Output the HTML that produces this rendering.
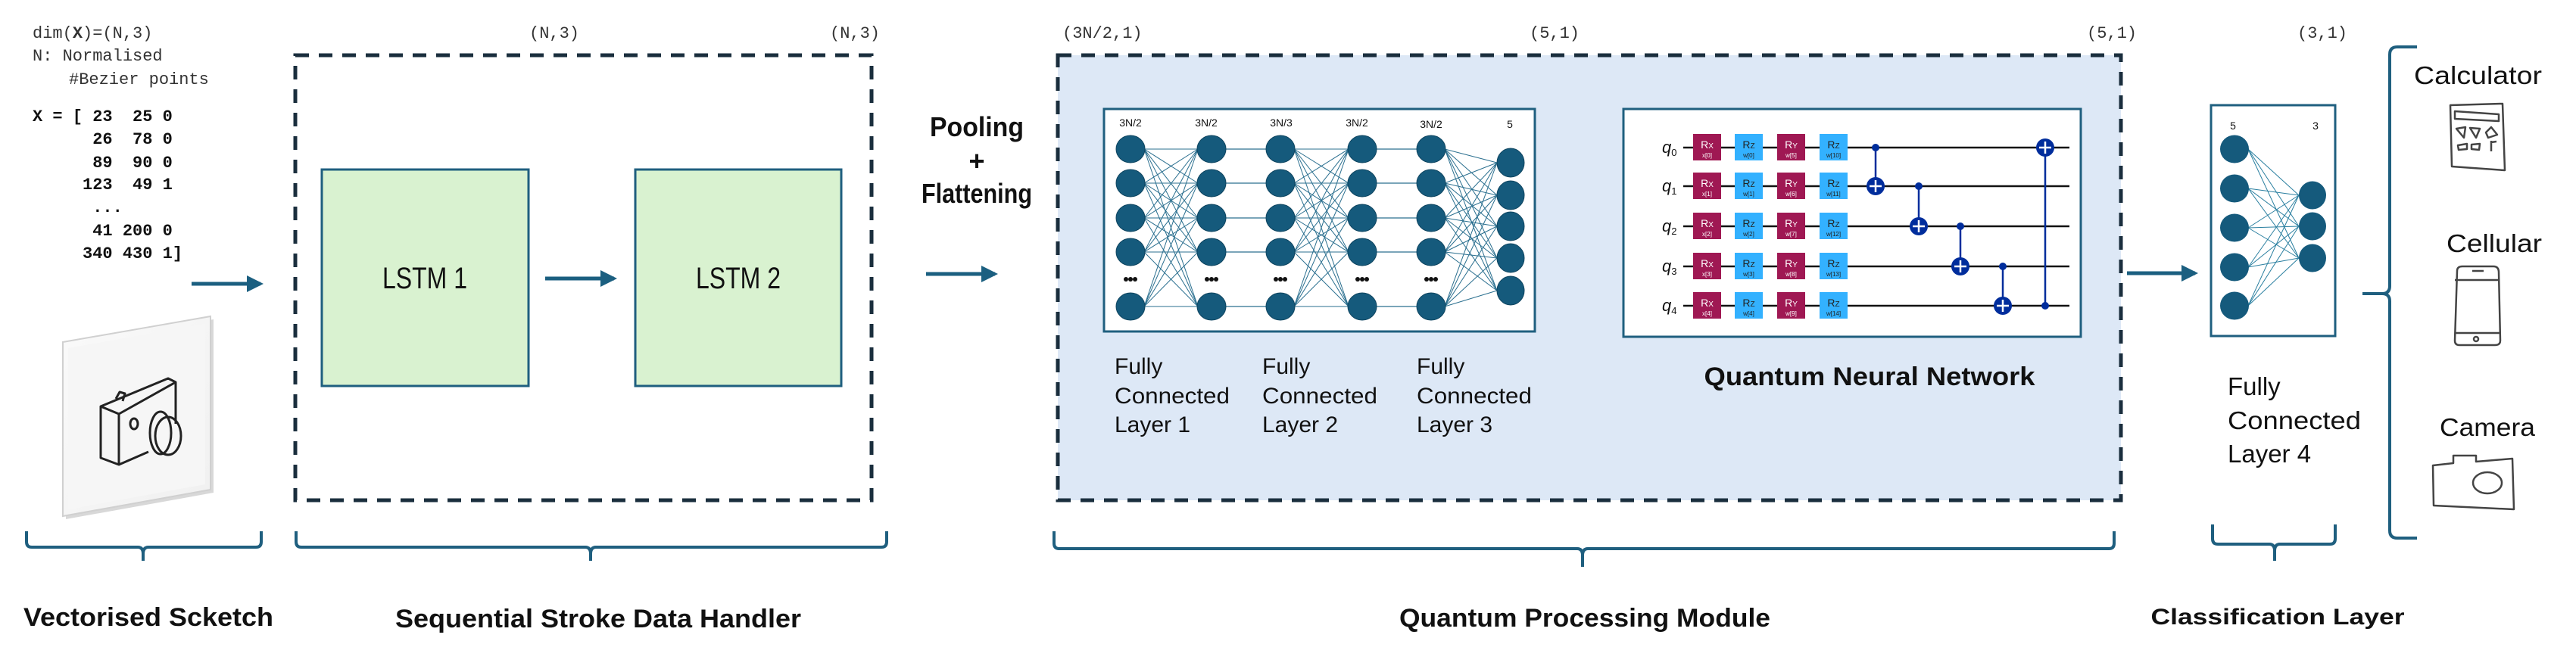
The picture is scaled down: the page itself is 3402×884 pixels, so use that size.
<!DOCTYPE html>
<html><head><meta charset="utf-8"><style>
html,body{margin:0;padding:0;background:#fff;}
svg{display:block;}
text{font-family:"Liberation Sans",sans-serif;}
.m,.m text{font-family:"Liberation Mono",monospace;}
</style></head><body>
<svg id="s" width="3402" height="884" viewBox="0 0 3402 884" xmlns="http://www.w3.org/2000/svg">
<defs>
<marker id="ah" markerWidth="22" markerHeight="22" refX="18" refY="11" orient="auto" markerUnits="userSpaceOnUse" viewBox="0 0 22 22"><path d="M0,0 L22,11 L0,22 z" fill="#1b5f80"/></marker>
<linearGradient id="card" x1="0" y1="0" x2="1" y2="1"><stop offset="0" stop-color="#fafafa"/><stop offset="1" stop-color="#f0f0f0"/></linearGradient>
</defs>

<text class="m" x="43" y="50" font-size="22" fill="#333">dim(<tspan font-weight="bold">X</tspan>)=(N,3)</text>
<text class="m" x="43" y="80" font-size="22" fill="#333">N: Normalised</text>
<text class="m" x="91" y="111" font-size="22" fill="#333">#Bezier points</text>
<g class="m" font-size="22" font-weight="bold" fill="#111">
<text x="43" y="160" xml:space="preserve">X = [ 23  25 0</text>
<text x="43" y="190" xml:space="preserve">      26  78 0</text>
<text x="43" y="221" xml:space="preserve">      89  90 0</text>
<text x="43" y="250" xml:space="preserve">     123  49 1</text>
<text x="43" y="280" xml:space="preserve">      ...</text>
<text x="43" y="311" xml:space="preserve">      41 200 0</text>
<text x="43" y="341" xml:space="preserve">     340 430 1]</text>
</g>

<g class="m" font-size="22" fill="#333">
<text x="699" y="50">(N,3)</text>
<text x="1096" y="50">(N,3)</text>
<text x="1403" y="50">(3N/2,1)</text>
<text x="2020" y="50">(5,1)</text>
<text x="2756" y="50">(5,1)</text>
<text x="3034" y="50">(3,1)</text>
</g>

<polygon points="83,452 278,418 278,647 83,682" fill="#d8d8d8" transform="translate(4,4)"/>
<polygon points="83,452 278,418 278,647 83,682" fill="url(#card)" stroke="#d0d0d0" stroke-width="2"/>
<polygon points="90,460 271,428 271,640 90,673" fill="#f6f6f6"/>
<g fill="none" stroke="#222" stroke-width="3" stroke-linejoin="round">
<path d="M133,537 L133,605 L157,614 L157,547 L133,537 L222,500 L232,505 L232,560"/>
<path d="M157,547 L232,505"/>
<path d="M157,614 L196,597"/>
<path d="M153,527 L158,518 L165,520 L162,530"/>
<ellipse cx="177" cy="560" rx="5" ry="7"/>
<ellipse cx="212" cy="572" rx="14" ry="28"/>
<ellipse cx="222" cy="576" rx="17" ry="25"/>
</g>

<g stroke="#1b5f80" stroke-width="5" marker-end="url(#ah)">
<line x1="253" y1="375" x2="344" y2="375"/>
<line x1="720" y1="368" x2="811" y2="368"/>
<line x1="1223" y1="362" x2="1314" y2="362"/>
<line x1="2042" y1="292" x2="2133" y2="292"/>
<line x1="2809" y1="361" x2="2899" y2="361"/>
</g>

<rect x="390" y="73" width="761" height="588" fill="none" stroke="#1a2e3d" stroke-width="5" stroke-dasharray="18,13"/>
<rect x="425" y="224" width="273" height="286" fill="#d9f2d0" stroke="#1f5f7f" stroke-width="3"/>
<rect x="839" y="224" width="272" height="286" fill="#d9f2d0" stroke="#1f5f7f" stroke-width="3"/>
<text x="561" y="381" font-size="40" text-anchor="middle" textLength="112" lengthAdjust="spacingAndGlyphs" fill="#111">LSTM 1</text>
<text x="975" y="381" font-size="40" text-anchor="middle" textLength="112" lengthAdjust="spacingAndGlyphs" fill="#111">LSTM 2</text>

<g font-weight="bold" font-size="36" fill="#111" text-anchor="middle">
<text x="1290" y="180" textLength="124" lengthAdjust="spacingAndGlyphs">Pooling</text>
<text x="1290" y="225">+</text>
<text x="1290" y="268" textLength="146" lengthAdjust="spacingAndGlyphs">Flattening</text>
</g>

<rect x="1397" y="73" width="1404" height="588" fill="#dde8f6" stroke="#1a2e3d" stroke-width="5" stroke-dasharray="18,13"/>
<rect x="1458" y="144" width="569" height="294" fill="#fff" stroke="#1f5f7f" stroke-width="3"/>
<g id="nn"></g>
<g font-size="14" fill="#111" text-anchor="middle">
<text x="1493" y="167">3N/2</text><text x="1593" y="167">3N/2</text><text x="1692" y="167">3N/3</text><text x="1792" y="167">3N/2</text><text x="1890" y="169">3N/2</text><text x="1994" y="169">5</text>
</g>
<g font-size="30" fill="#111">
<text x="1472" y="494">Fully</text><text x="1472" y="533" textLength="152" lengthAdjust="spacingAndGlyphs">Connected</text><text x="1472" y="571">Layer 1</text>
<text x="1667" y="494">Fully</text><text x="1667" y="533" textLength="152" lengthAdjust="spacingAndGlyphs">Connected</text><text x="1667" y="571">Layer 2</text>
<text x="1871" y="494">Fully</text><text x="1871" y="533" textLength="152" lengthAdjust="spacingAndGlyphs">Connected</text><text x="1871" y="571">Layer 3</text>
</g>

<rect x="2144" y="144" width="604" height="301" fill="#fff" stroke="#1f5f7f" stroke-width="3"/>
<g id="qc"></g>
<text x="2469" y="509" font-size="34" font-weight="bold" text-anchor="middle" textLength="437" lengthAdjust="spacingAndGlyphs" fill="#111">Quantum Neural Network</text>

<rect x="2920" y="139" width="164" height="305" fill="#fff" stroke="#1f5f7f" stroke-width="3"/>
<g id="fc4"></g>
<text x="2949" y="171" font-size="14" text-anchor="middle" fill="#111">5</text>
<text x="3058" y="171" font-size="14" text-anchor="middle" fill="#111">3</text>
<g font-size="33" fill="#111">
<text x="2942" y="522">Fully</text><text x="2942" y="567" textLength="176" lengthAdjust="spacingAndGlyphs">Connected</text><text x="2942" y="611">Layer 4</text>
</g>

<path d="M3192,62 L3166,62 Q3156,62 3156,72 L3156,378 Q3156,388 3146,388 L3120,388 L3146,388 Q3156,388 3156,398 L3156,701 Q3156,711 3166,711 L3192,711" fill="none" stroke="#1f5f7f" stroke-width="4"/>
<g font-size="33" fill="#111">
<text x="3188" y="111" textLength="169" lengthAdjust="spacingAndGlyphs">Calculator</text>
<text x="3231" y="333" textLength="126" lengthAdjust="spacingAndGlyphs">Cellular</text>
<text x="3222" y="576" textLength="126" lengthAdjust="spacingAndGlyphs">Camera</text>
</g>
<g fill="none" stroke="#444" stroke-width="2.5" stroke-linejoin="round">
<path d="M3236,139 L3305,137 L3308,225 L3238,220 Z"/>
<path d="M3242,147 L3300,151 L3300,160 L3242,157 Z"/>
<path d="M3244,170 L3256,168 L3254,182 Z M3262,169 L3275,170 L3270,182 Z M3283,175 L3290,168 L3298,178 L3286,182 Z M3246,192 L3258,190 L3258,197 L3247,198 Z M3264,191 L3275,190 L3274,198 L3264,197 Z M3290,186 L3290,200 M3290,188 L3297,187"/>
<path d="M3245,358 Q3245,352 3252,352 L3293,352 Q3300,352 3300,360 L3302,450 Q3302,456 3295,456 L3248,456 Q3242,456 3242,450 Z"/>
<path d="M3242,370 L3301,370 M3242,440 L3302,440 M3265,358 L3280,358"/>
<circle cx="3270" cy="448" r="3"/>
<path d="M3213,615 L3240,612 L3240,602 L3270,602 L3270,610 L3318,606 L3320,673 L3214,668 Z"/>
<ellipse cx="3285" cy="638" rx="19" ry="14"/>
</g>

<g fill="none" stroke="#1f5f7f" stroke-width="4">
<path d="M35,702 L35,716 Q35,723 42,723 L182,723 Q189,723 189,732 L189,741 M189,732 Q189,723 196,723 L338,723 Q345,723 345,716 L345,702"/>
<path d="M391,702 L391,716 Q391,723 398,723 L773,723 Q780,723 780,732 L780,741 M780,732 Q780,723 787,723 L1164,723 Q1171,723 1171,716 L1171,702"/>
<path d="M1392,702 L1392,718 Q1392,725 1399,725 L2083,725 Q2090,725 2090,734 L2090,749 M2090,734 Q2090,725 2097,725 L2785,725 Q2792,725 2792,718 L2792,702"/>
<path d="M2922,693 L2922,712 Q2922,719 2929,719 L2997,719 Q3004,719 3004,728 L3004,741 M3004,728 Q3004,719 3011,719 L3077,719 Q3084,719 3084,712 L3084,693"/>
</g>
<g font-weight="bold" font-size="34" fill="#111" text-anchor="middle">
<text x="196" y="827" textLength="330" lengthAdjust="spacingAndGlyphs">Vectorised Scketch</text>
<text x="790" y="829" textLength="536" lengthAdjust="spacingAndGlyphs">Sequential Stroke Data Handler</text>
<text x="2093" y="828" textLength="490" lengthAdjust="spacingAndGlyphs">Quantum Processing Module</text>
<text x="3008" y="825" font-size="30" textLength="335" lengthAdjust="spacingAndGlyphs">Classification Layer</text>
</g>
</svg>
<script>
var NS="http://www.w3.org/2000/svg";
function el(p,t,a,txt){var e=document.createElementNS(NS,t);for(var k in a)e.setAttribute(k,a[k]);if(txt!==undefined)e.textContent=txt;p.appendChild(e);return e;}
var nn=document.getElementById("nn");
var cols=[1493,1600,1691,1799,1890];
var rows=[197,242,288,333,405];
var last=[215,258,299,341,384];
function conn(x1,ys1,x2,ys2,full){for(var i=0;i<ys1.length;i++)for(var j=0;j<ys2.length;j++){if(!full&&i!==j)continue;el(nn,"line",{x1:x1+18,y1:ys1[i],x2:x2-18,y2:ys2[j],stroke:"#2a6f8f","stroke-width":full?1:1.3});}}
conn(cols[0],rows,cols[1],rows,true);
conn(cols[1],rows,cols[2],rows,false);
conn(cols[2],rows,cols[3],rows,true);
conn(cols[3],rows,cols[4],rows,false);
conn(cols[4],rows,1995,last,true);
cols.forEach(function(x){rows.forEach(function(y){el(nn,"ellipse",{cx:x,cy:y,rx:19,ry:18,fill:"#155a7c",stroke:"#0f4560","stroke-width":1});});
 [-6,0,6].forEach(function(d){el(nn,"circle",{cx:x+d,cy:369,r:3,fill:"#111"});});});
last.forEach(function(y){el(nn,"ellipse",{cx:1995,cy:y,rx:18,ry:19,fill:"#155a7c",stroke:"#0f4560","stroke-width":1});});

var qc=document.getElementById("qc");
var qy=[195,246,299,352,404];
var gx=[2236,2291,2347,2403];
var gc=["#9f1853","#33b1ff","#9f1853","#33b1ff"];
var gn=[["R","X"],["R","Z"],["R","Y"],["R","Z"]];
qy.forEach(function(y,i){
 el(qc,"line",{x1:2223,y1:y,x2:2733,y2:y,stroke:"#111","stroke-width":2.5});
 var t=el(qc,"text",{x:2195,y:y+7,"font-size":22,"font-style":"italic",fill:"#111","font-family":"DejaVu Sans, sans-serif"},"q");
 el(t,"tspan",{"font-size":13,"font-style":"normal",dy:4},""+i);
 var subs=["x["+i+"]","w["+i+"]","w["+(i+5)+"]","w["+(i+10)+"]"];
 gx.forEach(function(x,k){
  el(qc,"rect",{x:x,y:y-18,width:37,height:35,fill:gc[k]});
  var col=k%2==0?"#fff":"#222";
  var tt=el(qc,"text",{x:x+18.5,y:y+1,"font-size":14,"text-anchor":"middle",fill:col,"font-family":"DejaVu Sans, sans-serif"},gn[k][0]);
  el(tt,"tspan",{"font-size":10},gn[k][1]);
  el(qc,"text",{x:x+18.5,y:y+13,"font-size":8,"text-anchor":"middle",fill:col,"font-family":"DejaVu Sans, sans-serif"},subs[k]);
 });
});
var cn=[[2477,0,1],[2534,1,2],[2589,2,3],[2645,3,4],[2701,4,0]];
cn.forEach(function(c){
 var x=c[0],yc=qy[c[1]],yt=qy[c[2]];
 el(qc,"line",{x1:x,y1:yc,x2:x,y2:yt,stroke:"#002d9c","stroke-width":2.5});
 el(qc,"circle",{cx:x,cy:yc,r:5,fill:"#002d9c"});
 el(qc,"circle",{cx:x,cy:yt,r:12,fill:"#002d9c"});
 el(qc,"line",{x1:x-8,y1:yt,x2:x+8,y2:yt,stroke:"#fff","stroke-width":2.5});
 el(qc,"line",{x1:x,y1:yt-8,x2:x,y2:yt+8,stroke:"#fff","stroke-width":2.5});
});

var fc=document.getElementById("fc4");
var L=[197,249,301,353,404],R=[258,299,341];
L.forEach(function(a){R.forEach(function(b){el(fc,"line",{x1:2969,y1:a,x2:3036,y2:b,stroke:"#2a7fa0","stroke-width":1});});});
L.forEach(function(y){el(fc,"ellipse",{cx:2951,cy:y,rx:19,ry:18.5,fill:"#155a7c"});});
R.forEach(function(y){el(fc,"ellipse",{cx:3054,cy:y,rx:18,ry:18.5,fill:"#155a7c"});});
</script>
</body></html>
